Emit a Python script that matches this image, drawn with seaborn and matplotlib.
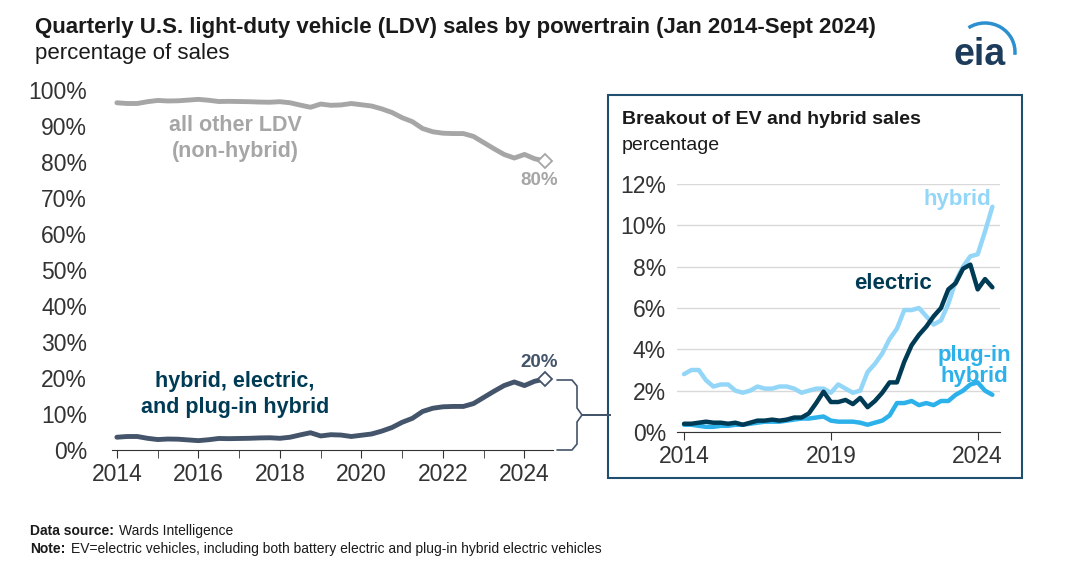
import numpy as np
import pandas as pd
import matplotlib
matplotlib.use('Agg')
import matplotlib.pyplot as plt
import seaborn as sns
from matplotlib.lines import Line2D
from matplotlib.patches import Rectangle, Arc

# quarterly shares (%), Q1 2014 .. Q3 2024
hybrid = [2.8, 3.0, 3.0, 2.5, 2.2, 2.3, 2.3, 2.0, 1.9, 2.0, 2.2, 2.1, 2.1, 2.2, 2.2, 2.1,
          1.9, 2.0, 2.1, 2.1, 1.9, 2.3, 2.1, 1.9, 2.0, 2.9, 3.3, 3.8, 4.5, 5.0, 5.9, 5.9,
          6.0, 5.6, 5.2, 5.4, 6.2, 7.3, 8.0, 8.5, 8.6, 9.7, 10.9]
electric = [0.4, 0.4, 0.45, 0.5, 0.45, 0.45, 0.4, 0.45, 0.35, 0.45, 0.55, 0.55, 0.6, 0.55, 0.6, 0.7,
            0.7, 0.9, 1.4, 1.95, 1.45, 1.45, 1.55, 1.35, 1.65, 1.2, 1.5, 1.9, 2.4, 2.4, 3.4, 4.2,
            4.7, 5.1, 5.6, 6.0, 6.9, 7.2, 7.9, 8.1, 6.9, 7.4, 7.0]
plugin = [0.35, 0.35, 0.3, 0.25, 0.25, 0.3, 0.3, 0.35, 0.35, 0.4, 0.45, 0.5, 0.5, 0.5, 0.55, 0.6,
          0.65, 0.65, 0.7, 0.75, 0.55, 0.5, 0.5, 0.5, 0.45, 0.35, 0.45, 0.55, 0.8, 1.4, 1.4, 1.5,
          1.3, 1.4, 1.3, 1.5, 1.5, 1.8, 2.0, 2.3, 2.4, 2.0, 1.8]

df = pd.DataFrame({'hybrid': hybrid, 'electric': electric, 'plugin': plugin})
df['t'] = 2014 + np.arange(len(df)) / 4
df['total'] = df['hybrid'] + df['electric'] + df['plugin']
df['other'] = 100 - df['total']

sns.set_style('white')
plt.rcParams['font.family'] = ['Liberation Sans', 'DejaVu Sans']

C_GRAY = '#a6a6a6'
C_TOT = '#44546a'
C_HYB = '#94d6f7'
C_EV = '#003b55'
C_PHEV = '#2cb1ea'
C_TXT = '#333333'

fig = plt.figure(figsize=(10.75, 5.75), dpi=100)
W, H = 1075, 575

def box(l, t, r, b):
    return [l / W, 1 - b / H, (r - l) / W, (b - t) / H]

# main chart
ax = fig.add_axes(box(112, 90, 553, 450))
sns.lineplot(data=df, x='t', y='other', ax=ax, color=C_GRAY, lw=3.5)
sns.lineplot(data=df, x='t', y='total', ax=ax, color=C_TOT, lw=3.5)
last = df.iloc[-1]
ax.plot(last['t'], last['other'], marker='D', ms=7, mfc='white', mec=C_GRAY, mew=1.3, clip_on=False)
ax.plot(last['t'], last['total'], marker='D', ms=7, mfc='white', mec=C_TOT, mew=1.3, clip_on=False)
ax.set_xlim(2013.88, 2024.7)
ax.set_ylim(0, 100)
ax.set_yticks(range(0, 101, 10))
ax.set_yticklabels([f'{v}%' for v in range(0, 101, 10)], fontsize=16.5, color=C_TXT)
ax.set_xticks(range(2014, 2025, 2))
ax.set_xticklabels([str(v) for v in range(2014, 2025, 2)], fontsize=16.5, color=C_TXT)
ax.set_xticks(range(2014, 2025), minor=True)
ax.tick_params(axis='x', which='both', direction='out', length=6, color=C_TXT, bottom=True)
ax.tick_params(axis='y', length=0, pad=18)
ax.set_xlabel('')
ax.set_ylabel('')
for s in ['top', 'right', 'left']:
    ax.spines[s].set_visible(False)
ax.spines['bottom'].set_color(C_TXT)
ax.text(2016.9, 86.5, 'all other LDV\n(non-hybrid)', color=C_GRAY, fontsize=15.5, fontweight='bold',
        ha='center', va='center', linespacing=1.3)
ax.text(2024.35, 73.5, '80%', color=C_GRAY, fontsize=13.5, fontweight='bold', ha='center')
ax.text(2024.35, 23, '20%', color=C_TOT, fontsize=13.5, fontweight='bold', ha='center')
ax.text(2016.9, 15.5, 'hybrid, electric,\nand plug-in hybrid', color=C_EV, fontsize=15.5,
        fontweight='bold', ha='center', va='center', linespacing=1.3)

# brace linking to inset
bx = [557, 572, 577, 577, 582, 610, 582, 577, 577, 572, 557]
by = [380, 380, 386, 408, 415, 415, 415, 422, 444, 450, 450]
fig.add_artist(Line2D([x / W for x in bx], [1 - y / H for y in by], transform=fig.transFigure,
                      color=C_TOT, lw=1.2))

# inset frame
fig.add_artist(Rectangle((608 / W, 1 - 478 / H), (1022 - 608) / W, (478 - 95) / H,
                         transform=fig.transFigure, fill=False, ec='#1f4e6e', lw=1.5))
fig.text(622 / W, 1 - 120 / H, 'Breakout of EV and hybrid sales', fontsize=14, fontweight='bold',
         color='#1a1a1a', va='center')
fig.text(622 / W, 1 - 145 / H, 'percentage', fontsize=14, color='#1a1a1a', va='center')

ix = fig.add_axes(box(684 - 7, 184, 1000, 432))
sns.lineplot(data=df, x='t', y='hybrid', ax=ix, color=C_HYB, lw=3.2)
sns.lineplot(data=df, x='t', y='plugin', ax=ix, color=C_PHEV, lw=3.2)
sns.lineplot(data=df, x='t', y='electric', ax=ix, color=C_EV, lw=3.2)
ix.set_xlim(2013.76, 2024.76)
ix.set_ylim(0, 12)
ix.set_yticks(range(0, 13, 2))
ix.set_yticklabels([f'{v}%' for v in range(0, 13, 2)], fontsize=16.5, color=C_TXT)
ix.set_xticks([2014, 2019, 2024])
ix.set_xticklabels(['2014', '2019', '2024'], fontsize=16.5, color=C_TXT)
ix.tick_params(axis='x', direction='out', length=6, color=C_TXT, bottom=True)
ix.tick_params(axis='y', length=0, pad=8)
ix.grid(axis='y', color='#d9d9d9', lw=1)
ix.set_xlabel('')
ix.set_ylabel('')
for s in ['top', 'right', 'left']:
    ix.spines[s].set_visible(False)
ix.spines['bottom'].set_color(C_TXT)
ix.text(2023.3, 11.0, 'hybrid', color=C_HYB, fontsize=16, fontweight='bold', ha='center')
ix.text(2021.1, 6.9, 'electric', color=C_EV, fontsize=16, fontweight='bold', ha='center')
ix.text(2023.9, 2.4, 'plug-in\nhybrid', color=C_PHEV, fontsize=16, fontweight='bold',
        ha='center', linespacing=1.05)

# titles and notes
fig.text(35 / W, 1 - 28 / H, 'Quarterly U.S. light-duty vehicle (LDV) sales by powertrain (Jan 2014-Sept 2024)',
         fontsize=16, fontweight='bold', color='#1a1a1a', va='center')
fig.text(35 / W, 1 - 53 / H, 'percentage of sales', fontsize=16, color='#1a1a1a', va='center')
fig.text(30 / W, 1 - 535 / H, 'Data source:', fontsize=10, fontweight='bold', color='#1a1a1a')
fig.text(119 / W, 1 - 535 / H, 'Wards Intelligence', fontsize=10, color='#1a1a1a')
fig.text(30 / W, 1 - 553 / H, 'Note:', fontsize=10, fontweight='bold', color='#1a1a1a')
fig.text(71 / W, 1 - 553 / H, 'EV=electric vehicles, including both battery electric and plug-in hybrid electric vehicles',
         fontsize=10, color='#1a1a1a')

# eia logo
fig.text(980 / W, 1 - 55 / H, 'eia', fontsize=27, fontweight='bold', color='#1d3b5a', ha='center', va='center')
fig.add_artist(Arc((985 / W, 1 - 52 / H), 60 / W, 58 / H, theta1=-10, theta2=110,
                   transform=fig.transFigure, color='#2c8fcf', lw=2.5))

fig.savefig('out.png', dpi=100)
